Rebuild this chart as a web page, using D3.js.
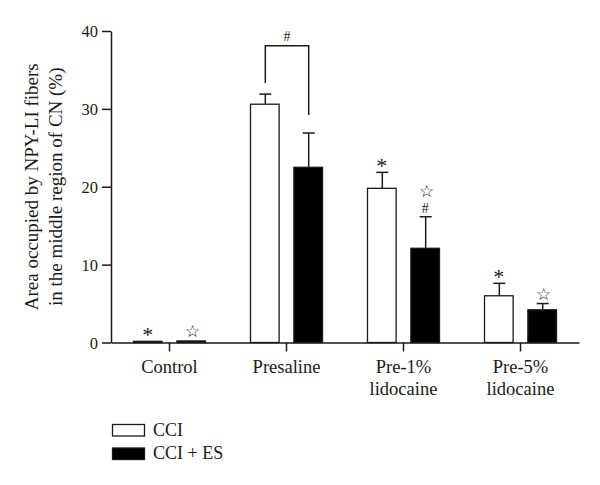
<!DOCTYPE html>
<html>
<head>
<meta charset="utf-8">
<script src="https://cdn.jsdelivr.net/npm/d3@7"></script>
<style>
  html, body { margin: 0; padding: 0; background: #fff; }
  svg { display: block; }
  text { font-family: "Liberation Serif", "DejaVu Serif", serif; fill: #1a1a1a; }
</style>
</head>
<body>
<script>
// ---- data ----
const categories = ["Control", "Presaline", "Pre-1%|lidocaine", "Pre-5%|lidocaine"];
const seriesNames = ["CCI", "CCI + ES"];
const cciValues = [0.15, 30.6, 19.8, 6.0];
const cciErrors = [0, 1.3, 2.05, 1.6];
const cciEsValues = [0.2, 22.5, 12.1, 4.2];
const cciEsErrors = [0, 4.4, 4.05, 0.8];
const cciMarks = ["*", "", "*", "*"];
const cciEsMarks = ["☆", "", "☆#", "☆"];
const yTicks = [0, 10, 20, 30, 40];
const yTitle = ["Area occupied by NPY-LI fibers", "in the middle region of CN (%)"];
const bracketTopValue = 38.1;

// ---- layout ----
const W = 600, H = 485;
const svg = d3.select("body").append("svg").attr("width", W).attr("height", H);
const ink = "#1a1a1a";

const x = d3.scaleBand().domain(categories).range([111, 579]).paddingInner(0).paddingOuter(0);
const xSub = d3.scaleBand().domain(seriesNames).range([-36, 36]).paddingInner(0.34).paddingOuter(0);
const y = d3.scaleLinear().domain([0, 40]).range([342.5, 31]);

const rows = [];
categories.forEach((c, i) => {
  rows.push({cat: c, s: seriesNames[0], v: cciValues[i], e: cciErrors[i], m: cciMarks[i], fill: "#fff"});
  rows.push({cat: c, s: seriesNames[1], v: cciEsValues[i], e: cciEsErrors[i], m: cciEsMarks[i], fill: "#000"});
});
const cx = d => x(d.cat) + x.bandwidth() / 2;
const bx = d => cx(d) + xSub(d.s);
const bc = d => bx(d) + xSub.bandwidth() / 2;

// bars
svg.append("g").selectAll("rect").data(rows).join("rect")
  .attr("x", bx)
  .attr("y", d => y(d.v))
  .attr("width", xSub.bandwidth())
  .attr("height", d => y(0) - y(d.v))
  .attr("fill", d => d.fill)
  .attr("stroke", ink)
  .attr("stroke-width", 1.3);

// error bars
const eb = svg.append("g").attr("stroke", ink).attr("stroke-width", 1.5);
rows.filter(d => d.e > 0).forEach(d => {
  eb.append("line").attr("x1", bc(d) + 0.5).attr("x2", bc(d) + 0.5).attr("y1", y(d.v)).attr("y2", y(d.v + d.e));
  eb.append("line").attr("x1", bc(d) - 5.5).attr("x2", bc(d) + 6.5).attr("y1", y(d.v + d.e)).attr("y2", y(d.v + d.e));
});

// y axis
const yAxis = svg.append("g").attr("transform", `translate(${x.range()[0]},0)`)
  .call(d3.axisLeft(y).tickValues(yTicks).tickSize(9).tickPadding(4).tickSizeOuter(0));
yAxis.select(".domain").attr("stroke", ink).attr("stroke-width", 1.5);
yAxis.selectAll(".tick line").attr("stroke", ink).attr("stroke-width", 1.5);
yAxis.selectAll(".tick text").attr("font-size", 16.5).attr("font-family", "Liberation Serif").attr("fill", ink).attr("dy", "0.34em");

// x axis
const xAxis = svg.append("g").attr("transform", `translate(0,${y(0)})`)
  .call(d3.axisBottom(x).tickSize(9).tickSizeOuter(0).tickFormat(""));
xAxis.select(".domain").attr("stroke", ink).attr("stroke-width", 1.5);
xAxis.selectAll(".tick line").attr("stroke", ink).attr("stroke-width", 1.5);
xAxis.selectAll(".tick").each(function(c) {
  const lines = c.split("|");
  const t = d3.select(this).append("text").attr("text-anchor", "middle")
    .attr("font-size", 18.5).attr("fill", ink).attr("y", 30.5);
  lines.forEach((l, i) => t.append("tspan").attr("x", 0).attr("dy", i === 0 ? 0 : 22).text(l));
});

// y title
const yt = svg.append("text").attr("transform", `translate(0,${(y(0) + y(40)) / 2}) rotate(-90)`)
  .attr("text-anchor", "middle").attr("font-size", 19);
yTitle.forEach((l, i) => yt.append("tspan").attr("x", 0).attr("y", 37.5 + i * 24).text(l));

// significance marks
rows.filter(d => d.m).forEach(d => {
  let top = y(d.v + d.e) - 4;
  const chars = Array.from(d.m).reverse();
  chars.forEach(ch => {
    if (ch === "*") {
      svg.append("text").attr("x", bc(d)).attr("y", top + 5).attr("text-anchor", "middle")
        .attr("font-size", 22).attr("font-family", "Liberation Serif").text("*");
      top -= 16;
    } else if (ch === "#") {
      svg.append("text").attr("x", bc(d)).attr("y", top).attr("text-anchor", "middle")
        .attr("font-size", 14).text("#");
      top -= 16;
    } else {
      svg.append("text").attr("x", bc(d) + 1).attr("y", top).attr("text-anchor", "middle")
        .attr("font-size", 17).attr("font-family", "DejaVu Sans").text("☆");
      top -= 18;
    }
  });
});

// bracket between Presaline bars
const pw = rows.find(d => d.cat === categories[1] && d.s === seriesNames[0]);
const pb = rows.find(d => d.cat === categories[1] && d.s === seriesNames[1]);
const x1 = bc(pw) + 0.5, x2 = bc(pb) + 0.5, yTop = y(bracketTopValue);
svg.append("path")
  .attr("d", `M${x1},${y(pw.v + pw.e) - 11}V${yTop}H${x2}V${y(pb.v + pb.e) - 18}`)
  .attr("fill", "none").attr("stroke", ink).attr("stroke-width", 1.5);
svg.append("text").attr("x", (x1 + x2) / 2).attr("y", yTop - 5).attr("text-anchor", "middle")
  .attr("font-size", 14).text("#");

// legend
const legend = svg.append("g");
seriesNames.forEach((s, i) => {
  const g = legend.append("g").attr("transform", `translate(112.5,${424.5 + i * 23.5})`);
  g.append("rect").attr("width", 32).attr("height", 11.5)
    .attr("fill", i === 0 ? "#fff" : "#000").attr("stroke", ink).attr("stroke-width", 1.3);
  g.append("text").attr("x", 40.5).attr("y", 11.2).attr("font-size", 18).text(s);
});
</script>
</body>
</html>
